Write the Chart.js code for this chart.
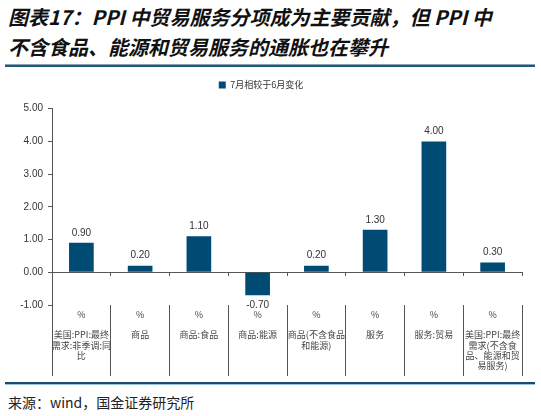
<!DOCTYPE html>
<html>
<head>
<meta charset="utf-8">
<script src="https://cdn.jsdelivr.net/npm/chart.js@4/dist/chart.umd.min.js"></script>
<style>
  html, body { margin: 0; padding: 0; background: #fff; }
  body { width: 541px; height: 416px; position: relative; overflow: hidden; }
  .title {
    position: absolute; left: 8px; top: 2px;
    font-family: "Noto Sans CJK SC", sans-serif; font-weight: 700; font-style: italic;
    font-size: 20px; line-height: 30px; color: #111; white-space: nowrap;
  }
  .rule-top { position: absolute; left: 5px; top: 64px; width: 530px; height: 1px; background: #8fa3b3; }
  .rule-top2 { position: absolute; left: 5px; top: 65px; width: 530px; height: 2px; background: #1d5a80; }
  .rule-bot { position: absolute; left: 5px; top: 382px; width: 530px; height: 2px; background: #174c70; }
  .rule-bot2 { position: absolute; left: 5px; top: 384px; width: 530px; height: 1px; background: #9cc3dc; }
  .source {
    position: absolute; left: 8px; top: 393px;
    font-family: "Noto Sans CJK SC", sans-serif; font-size: 14px; line-height: 18px; color: #222;
  }
  #wrap { position: absolute; left: 0; top: 63px; width: 541px; height: 317px; }
</style>
</head>
<body>
<div class="title">图表17：PPI 中贸易服务分项成为主要贡献，但 PPI 中<br>不含食品、能源和贸易服务的通胀也在攀升</div>
<div class="rule-top"></div><div class="rule-top2"></div>
<div id="wrap"><canvas id="chart"></canvas></div>
<div class="rule-bot"></div><div class="rule-bot2"></div>
<div class="source">来源：wind，国金证券研究所</div>

<script>
// categories (each label: "%" row, spacer, then wrapped name)
const categories = [
  ['%', '', '美国:PPI:最终', '需求:非季调:同', '比'],
  ['%', '', '商品'],
  ['%', '', '商品:食品'],
  ['%', '', '商品:能源'],
  ['%', '', '商品(不含食品', '和能源)'],
  ['%', '', '服务'],
  ['%', '', '服务:贸易'],
  ['%', '', '美国:PPI:最终', '需求(不含食', '品、能源和贸', '易服务)'],
];
const seriesName = '7月相较于6月变化';
const changeVals = [0.9, 0.2, 1.1, -0.7, 0.2, 1.3, 4.0, 0.3];
const yTicks = { min: -1, max: 5, step: 1 };

const BAR = '#004b73';
const LINE = '#555555';

// value labels above / below each bar
const valueLabels = {
  id: 'valueLabels',
  afterDatasetsDraw(chart) {
    const ctx = chart.ctx;
    const meta = chart.getDatasetMeta(0);
    ctx.save();
    ctx.font = '10px "Liberation Sans", Arial, sans-serif';
    ctx.fillStyle = '#333';
    ctx.textAlign = 'center';
    ctx.textBaseline = 'middle';
    meta.data.forEach((bar, i) => {
      const v = changeVals[i];
      const y = v >= 0 ? bar.y - 10 : bar.y + 10;
      ctx.fillText(v.toFixed(2), bar.x, y);
    });
    ctx.restore();
  }
};

new Chart(document.getElementById('chart'), {
  type: 'bar',
  data: {
    labels: categories,
    datasets: [{
      label: seriesName,
      data: changeVals,
      backgroundColor: BAR,
      borderWidth: 0,
      barPercentage: 0.42,
      categoryPercentage: 1,
    }]
  },
  plugins: [valueLabels],
  options: {
    responsive: true,
    maintainAspectRatio: false,
    animation: false,
    devicePixelRatio: 1,
    layout: { padding: { top: 0, left: 0, right: 19, bottom: 4 } },
    plugins: {
      legend: {
        position: 'top',
        labels: {
          boxWidth: 7, boxHeight: 7, padding: 17.5, color: '#333',
          font: { size: 9, family: '"Noto Sans CJK SC", sans-serif' },
        }
      },
      // empty spacer between legend and plot
      subtitle: {
        display: true, text: '', weight: 500,
        font: { size: 1 }, padding: { top: 4, bottom: 4 },
      },
      tooltip: { enabled: false },
    },
    scales: {
      x: {
        position: 'bottom',
        border: { display: false },
        grid: { offset: true, drawOnChartArea: false, tickLength: 71, color: LINE, lineWidth: 1 },
        ticks: {
          padding: -67, autoSkip: false, maxRotation: 0, color: '#444',
          font: { size: 9, family: '"Noto Sans CJK SC", sans-serif', lineHeight: 1.15 },
        },
        afterFit: s => { s.height = 71; },
      },
      x0: {
        type: 'category',
        position: { y: 0 },
        border: { display: true, color: LINE, width: 1 },
        grid: { offset: true, drawOnChartArea: false, tickLength: 3, color: LINE },
        ticks: { display: false },
      },
      y: {
        min: yTicks.min, max: yTicks.max,
        border: { display: true, color: LINE, width: 1 },
        grid: { drawOnChartArea: false, tickLength: 4, color: LINE },
        ticks: {
          stepSize: yTicks.step, padding: 5, color: '#333',
          font: { size: 10, family: '"Liberation Sans", Arial, sans-serif' },
          callback: v => v.toFixed(2),
        },
        afterFit: s => { s.width = 52; },
      }
    }
  }
});
</script>
</body>
</html>
